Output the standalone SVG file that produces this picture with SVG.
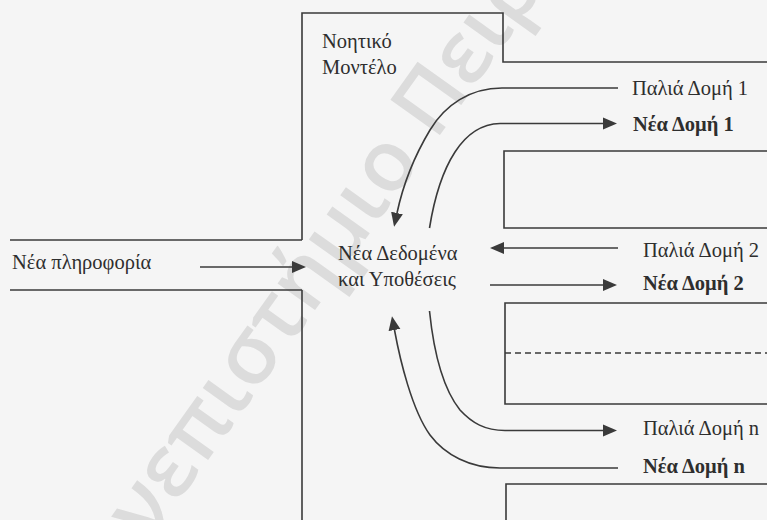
<svg xmlns="http://www.w3.org/2000/svg" width="767" height="520" viewBox="0 0 767 520">
  <style>
    .wall { fill: none; stroke: #3a3a3a; stroke-width: 1.6; }
    .dash { fill: none; stroke: #3a3a3a; stroke-width: 1.3; stroke-dasharray: 6 4; }
    .flow { fill: none; stroke: #3a3a3a; stroke-width: 1.6; }
    .lbl { font-family: "Liberation Serif", "Times New Roman", serif; font-size: 20.5px; fill: #2e2e2e; }
    .bold { font-weight: bold; }
    .mark { font-family: "Open Sans", "DejaVu Sans", sans-serif; font-size: 85px; font-weight: 600; fill: #dcdcdc; }
  </style>
  <defs>
    <marker id="head" markerUnits="userSpaceOnUse" markerWidth="16" markerHeight="14" viewBox="0 -7 16 14" refX="0" refY="0" orient="auto">
      <path d="M0,-6 L14,0 L0,6 z" fill="#3a3a3a"/>
    </marker>
  </defs>

  <rect width="767" height="520" fill="#f5f5f5"/>

  <!-- watermark -->
  <text class="mark" transform="translate(81,638) rotate(-54.5)">Πανεπιστήμιο Πειραιώς</text>

  <!-- mental model enclosure -->
  <g id="model">
    <path class="wall" d="M302,240 L302,13 L503,13 L503,62 L767,62"/>
    <path class="wall" d="M302,290 L302,520"/>
    <text class="lbl" x="322" y="48">Νοητικό</text>
    <text class="lbl" x="322" y="74">Μοντέλο</text>
  </g>

  <!-- incoming information channel -->
  <g id="input">
    <path class="wall" d="M10,240 L302,240"/>
    <path class="wall" d="M10,290 L302,290"/>
    <text class="lbl" x="12" y="269">Νέα πληροφορία</text>
  </g>

  <!-- central node -->
  <g id="data">
    <text class="lbl" x="338" y="260">Νέα Δεδομένα</text>
    <text class="lbl" x="338" y="286">και Υποθέσεις</text>
  </g>

  <!-- structure 1 -->
  <g id="structure1">
    <path class="wall" d="M767,151 L504,151 L504,228 L767,228"/>
    <text class="lbl" x="632" y="95">Παλιά Δομή 1</text>
    <text class="lbl bold" x="633" y="131">Νέα Δομή 1</text>
  </g>

  <!-- structure 2 -->
  <g id="structure2">
    <path class="wall" d="M767,303 L505,303 L505,404 L767,404"/>
    <path class="dash" d="M505,353 L767,353"/>
    <text class="lbl" x="643" y="257">Παλιά Δομή 2</text>
    <text class="lbl bold" x="643" y="290">Νέα Δομή 2</text>
  </g>

  <!-- structure n -->
  <g id="structureN">
    <path class="wall" d="M767,484 L506,484 L506,520"/>
    <text class="lbl" x="643" y="435">Παλιά Δομή n</text>
    <text class="lbl bold" x="643" y="473">Νέα Δομή n</text>
  </g>

  <!-- connectors -->
  <g id="connectors">
    <path class="flow" d="M200,267 L292,267" marker-end="url(#head)"/>
    <path class="flow" d="M618,88 L502,88 C470,88 445,105 430,130 C415,155 403,185 397,213" marker-end="url(#head)"/>
    <path class="flow" d="M429.5,228 C434,200 442,172 455,152 C466,135 480,124 500,123.5 L603,123.5" marker-end="url(#head)"/>
    <path class="flow" d="M618,248 L504,248" marker-end="url(#head)"/>
    <path class="flow" d="M490,285 L603,285" marker-end="url(#head)"/>
    <path class="flow" d="M429.5,311 C433,345 440,385 460,410 C472,423 485,430.5 505,430.5 L603,430.5" marker-end="url(#head)"/>
    <path class="flow" d="M618,468 L500,468 C470,468 445,455 430,435 C412,410 400,360 394.5,330" marker-end="url(#head)"/>
  </g>
</svg>
